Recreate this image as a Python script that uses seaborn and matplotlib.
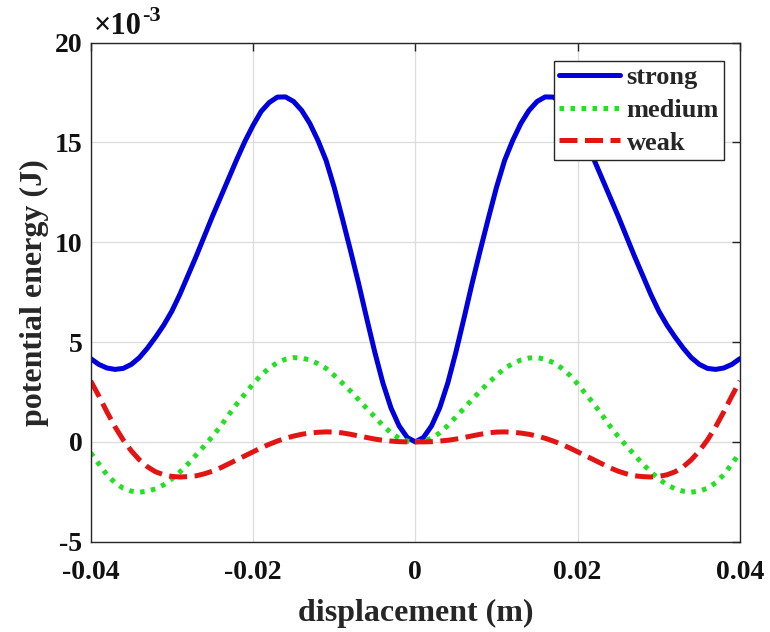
import matplotlib
matplotlib.use("Agg")
import matplotlib.pyplot as plt
import seaborn as sns
import pandas as pd

# displacement samples in millimetres
displacement_mm = [
    -40, -39, -38, -37, -36, -35, -34, -33, -32, -31, -30, -29, -28, -27, -26,
    -25, -24, -23, -22, -21, -20, -19, -18, -17, -16, -15, -14, -13, -12, -11,
    -10, -9, -8, -7, -6, -5, -4, -3, -2, -1, 0, 1, 2, 3, 4, 5, 6, 7, 8, 9, 10,
    11, 12, 13, 14, 15, 16, 17, 18, 19, 20, 21, 22, 23, 24, 25, 26, 27, 28, 29,
    30, 31, 32, 33, 34, 35, 36, 37, 38, 39, 40,
]

# potential energy in units of 1e-3 J
strong = [
    4.17, 3.88, 3.70, 3.63, 3.68, 3.88, 4.22, 4.70, 5.25, 5.85, 6.55, 7.40, 8.35,
    9.30, 10.30, 11.30, 12.25, 13.20, 14.15, 15.05, 15.85, 16.55, 17.00, 17.27,
    17.28, 17.05, 16.60, 15.95, 15.10, 14.10, 12.75, 11.20, 9.60, 7.95, 6.20,
    4.50, 2.95, 1.70, 0.80, 0.22, 0.00,
    0.22, 0.80, 1.70, 2.95, 4.50, 6.20, 7.95, 9.60, 11.20, 12.75, 14.10, 15.10,
    15.95, 16.60, 17.05, 17.28, 17.27, 17.00, 16.55, 15.85, 15.05, 14.15, 13.20,
    12.25, 11.30, 10.30, 9.30, 8.35, 7.40, 6.55, 5.85, 5.25, 4.70, 4.22, 3.88,
    3.68, 3.63, 3.70, 3.88, 4.17,
]

medium = [
    -0.55, -1.10, -1.65, -2.05, -2.32, -2.47, -2.52, -2.47, -2.35, -2.15, -1.85,
    -1.50, -1.10, -0.65, -0.20, 0.27, 0.78, 1.35, 1.90, 2.40, 2.90, 3.35, 3.70,
    3.97, 4.14, 4.22, 4.20, 4.10, 3.92, 3.68, 3.33, 2.95, 2.55, 2.12, 1.68, 1.25,
    0.82, 0.45, 0.18, 0.04, 0.00,
    0.04, 0.18, 0.45, 0.82, 1.25, 1.68, 2.12, 2.55, 2.95, 3.33, 3.68, 3.92, 4.10,
    4.20, 4.22, 4.14, 3.97, 3.70, 3.35, 2.90, 2.40, 1.90, 1.35, 0.78, 0.27,
    -0.20, -0.65, -1.10, -1.50, -1.85, -2.15, -2.35, -2.47, -2.52, -2.47, -2.32,
    -2.05, -1.65, -1.10, -0.55,
]

weak = [
    3.05, 2.30, 1.50, 0.75, 0.10, -0.45, -0.90, -1.25, -1.50, -1.65, -1.73,
    -1.76, -1.74, -1.70, -1.60, -1.47, -1.30, -1.10, -0.90, -0.70, -0.50, -0.30,
    -0.12, 0.04, 0.18, 0.29, 0.38, 0.44, 0.48, 0.50, 0.49, 0.45, 0.38, 0.30,
    0.22, 0.14, 0.08, 0.04, 0.01, 0.00, 0.00,
    0.00, 0.01, 0.04, 0.08, 0.14, 0.22, 0.30, 0.38, 0.45, 0.49, 0.50, 0.48, 0.44,
    0.38, 0.29, 0.18, 0.04, -0.12, -0.30, -0.50, -0.70, -0.90, -1.10, -1.30,
    -1.47, -1.60, -1.70, -1.74, -1.76, -1.73, -1.65, -1.50, -1.25, -0.90, -0.45,
    0.10, 0.75, 1.50, 2.30, 3.05,
]

series_names = ["strong", "medium", "weak"]
series_colors = ["#0000dc", "#22e022", "#e41414"]
series_styles = ["-", (0, (0.9, 1.3)), (0, (3.6, 1.5))]

x_ticks = [-0.04, -0.02, 0, 0.02, 0.04]
x_tick_labels = ["-0.04", "-0.02", "0", "0.02", "0.04"]
y_ticks = [-5, 0, 5, 10, 15, 20]
y_tick_labels = ["-5", "0", "5", "10", "15", "20"]

sns.set_style("white")
plt.rcParams["font.family"] = ["Liberation Serif", "DejaVu Serif"]
plt.rcParams["font.weight"] = "bold"
plt.rcParams["axes.unicode_minus"] = False

x_m = [v * 1e-3 for v in displacement_mm]
frames = []
for name, vals in zip(series_names, [strong, medium, weak]):
    frames.append(pd.DataFrame({"x": x_m, "energy": vals, "case": name}))
df = pd.concat(frames, ignore_index=True)

fig = plt.figure(figsize=(7.7, 6.32), dpi=100)
ax = fig.add_axes([0.1178, 0.1429, 0.8432, 0.7897])

for name, color, ls in zip(series_names, series_colors, series_styles):
    sub = df[df["case"] == name]
    sns.lineplot(data=sub, x="x", y="energy", ax=ax, color=color,
                 linestyle=ls, linewidth=3.6, label=name, sort=False)

ax.set_xlim(-0.04, 0.04)
ax.set_ylim(-5, 20)
ax.set_xticks(x_ticks)
ax.set_xticklabels(x_tick_labels)
ax.set_yticks(y_ticks)
ax.set_yticklabels(y_tick_labels)
ax.tick_params(axis="both", direction="in", length=6, width=1.0,
               labelsize=20, top=True, right=True, colors="#222222",
               labelcolor="#111111")
ax.tick_params(axis="x", pad=13)
ax.tick_params(axis="y", pad=6)
for lab in ax.get_xticklabels() + ax.get_yticklabels():
    lab.set_fontweight("bold")

ax.grid(True, color="#dcdcdc", linewidth=0.9)
ax.set_axisbelow(True)
for sp in ax.spines.values():
    sp.set_color("#262626")
    sp.set_linewidth(1.0)

ax.set_xlabel("displacement (m)", fontsize=23, fontweight="bold", labelpad=10)
ax.set_ylabel("potential energy (J)", fontsize=23, fontweight="bold", labelpad=4)

# exponent marker above the y axis
ax.annotate("\u00d710", xy=(0, 1), xycoords="axes fraction",
            xytext=(2, 1), textcoords="offset points",
            fontsize=22, ha="left", va="bottom", color="#111111")
ax.annotate("-3", xy=(0, 1), xycoords="axes fraction",
            xytext=(37, 12), textcoords="offset points",
            fontsize=16, ha="left", va="bottom", color="#111111")

leg = ax.legend(loc="upper right", bbox_to_anchor=(0.976, 0.964),
                fontsize=19, frameon=True, fancybox=False, framealpha=1,
                edgecolor="#262626", handlelength=2.3, handletextpad=0.25,
                labelspacing=0.35, borderpad=0.2, borderaxespad=0.0)
leg.get_frame().set_linewidth(1.0)
for t in leg.get_texts():
    t.set_fontweight("bold")

fig.savefig("out.png", dpi=100)
